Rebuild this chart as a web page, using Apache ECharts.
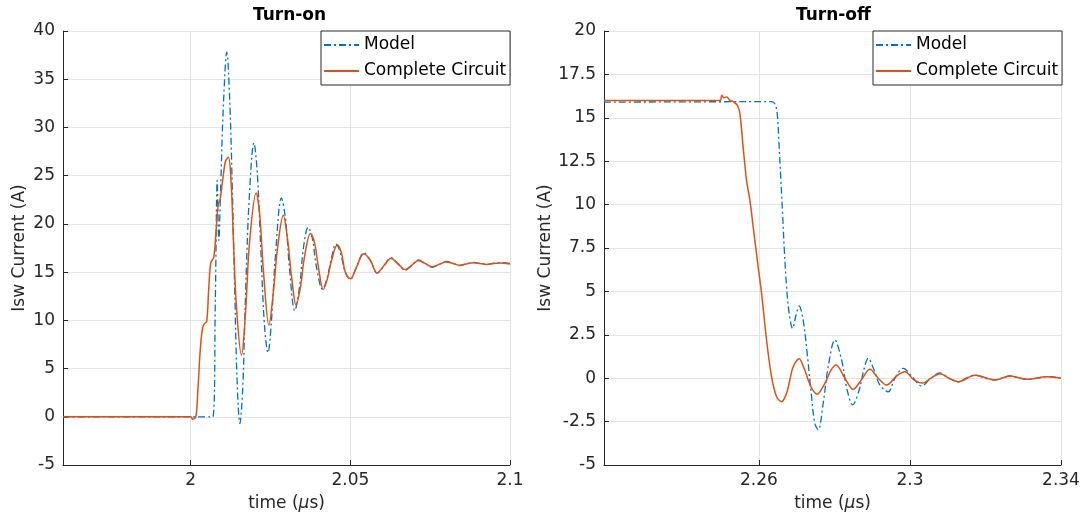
<!DOCTYPE html>
<html>
<head>
<meta charset="utf-8">
<script src="https://cdn.jsdelivr.net/npm/echarts@6/dist/echarts.min.js"></script>
<style>
  html, body { margin: 0; padding: 0; background: #ffffff; }
  #chart { width: 1088px; height: 524px; }
</style>
</head>
<body>
<div id="chart"></div>
<script>
// ---- Turn-on transient (time in µs, current in A) ----
const onModelT = [1.96, 2.0069, 2.0077, 2.0083, 2.0088, 2.0094, 2.0102, 2.0113, 2.0122, 2.0130, 2.0138, 2.0145,
  2.0154, 2.0163, 2.0172, 2.0183, 2.0198, 2.0209, 2.0220, 2.0231, 2.0242, 2.0253, 2.0266, 2.0284, 2.0297, 2.0309,
  2.0326, 2.0341, 2.0353, 2.0368, 2.0381, 2.0394, 2.0413, 2.0428, 2.0441, 2.0455, 2.0469, 2.0484, 2.0500, 2.0519,
  2.0542, 2.0563, 2.0584, 2.0606, 2.0627, 2.0648, 2.0672, 2.0692, 2.0713, 2.0734, 2.0756, 2.0778, 2.0800, 2.0822,
  2.0842, 2.0863, 2.0885, 2.0906, 2.0927, 2.0947, 2.0969, 2.1];
const onModelI = [0, 0, 12, 24.5, 18.3, 24, 32, 37.8, 33, 24, 13, 4,
  -0.7, 3, 13, 22.5, 28.4, 25, 17, 9.5, 6.65, 10, 17, 22.7, 20.5, 15.5,
  11.0, 13.5, 17.5, 19.65, 18.5, 15.5, 13.2, 14.5, 16.5, 17.9, 17, 15, 14.25, 15.5,
  17.0, 16.2, 14.9, 15.7, 16.5, 15.9, 15.2, 15.7, 16.26, 15.9, 15.5, 15.8, 16.1, 15.9,
  15.67, 15.85, 16.0, 15.9, 15.8, 15.9, 15.98, 15.9];

const onCircT = [1.96, 2.0, 2.0006, 2.0016, 2.0022, 2.0030, 2.0037, 2.0042, 2.0050, 2.0056, 2.0063, 2.0072,
  2.0080, 2.0086, 2.0092, 2.0100, 2.0109, 2.0118, 2.0127, 2.0134, 2.0144, 2.0159, 2.0172, 2.0184, 2.0205,
  2.0216, 2.0228, 2.0245, 2.0259, 2.0272, 2.0290, 2.0303, 2.0316, 2.0330, 2.0344, 2.0356, 2.0375, 2.0388,
  2.0400, 2.0415, 2.0428, 2.0441, 2.0459, 2.0472, 2.0484, 2.0500, 2.0519, 2.0542, 2.0563, 2.0584, 2.0606,
  2.0627, 2.0648, 2.0672, 2.0692, 2.0713, 2.0734, 2.0756, 2.0778, 2.0800, 2.0822, 2.0842, 2.0863, 2.0885,
  2.0906, 2.0927, 2.0947, 2.0969, 2.1];
const onCircI = [0, 0, -0.25, 0, 2.5, 7, 9.2, 9.6, 9.9, 13, 16, 16.5,
  19.5, 22, 22.5, 24.5, 26.5, 26.9, 24, 18, 11, 6.4, 11, 18, 23.2,
  21, 15, 9.5, 13, 17.5, 20.9, 18.5, 14.5, 11.6, 13.5, 16.5, 19.0, 18,
  15.5, 13.2, 14.3, 16.2, 17.8, 17, 15, 14.3, 15.5, 16.9, 16.2, 14.9, 15.7,
  16.45, 15.9, 15.25, 15.7, 16.2, 15.9, 15.55, 15.8, 16.05, 15.9, 15.7, 15.85, 15.98,
  15.9, 15.8, 15.9, 15.95, 15.85];

// ---- Turn-off transient ----
const offModelT = [2.219, 2.26336, 2.26424, 2.26485, 2.26538, 2.26583, 2.26628, 2.26670, 2.26734, 2.26803,
  2.26893, 2.26980, 2.27068, 2.27173, 2.27279, 2.27396, 2.27483, 2.27571, 2.27703, 2.27836, 2.28013, 2.28191,
  2.28339, 2.28482, 2.28657, 2.28781, 2.28895, 2.29046, 2.29205, 2.29425, 2.29603, 2.29823, 2.30053, 2.30310,
  2.30530, 2.30795, 2.31033, 2.31280, 2.31483, 2.31722, 2.31987, 2.32252, 2.32437, 2.32649, 2.32887, 2.33134,
  2.33364, 2.33621, 2.34];
const offModelI = [15.9, 15.93, 15.8, 15.26, 13.3, 11.4, 9.5, 7.57, 5.27, 3.74,
  2.87, 3.6, 4.16, 3.35, 1.43, -1.07, -2.6, -2.98, -1.45, 0.66, 2.2, 1.05,
  -0.68, -1.54, -0.68, 0.5, 1.15, 0.5, -0.4, -0.78, 0, 0.57, 0.1, -0.45,
  -0.05, 0.3, 0, -0.22, 0, 0.18, 0, -0.1, 0, 0.13, 0, -0.06,
  0, 0.09, 0];

const offCircT = [2.219, 2.24967, 2.25020, 2.25073, 2.25152, 2.25232, 2.25319, 2.25425, 2.25497, 2.25584,
  2.25674, 2.25762, 2.25849, 2.25981, 2.26072, 2.26204, 2.26336, 2.26469, 2.26601, 2.26734, 2.26821, 2.26909,
  2.27068, 2.27192, 2.27306, 2.27404, 2.27544, 2.27669, 2.27793, 2.27907, 2.28040, 2.28278, 2.28498, 2.28721,
  2.28940, 2.29160, 2.29383, 2.29629, 2.29868, 2.30106, 2.30336, 2.30556, 2.30795, 2.31033, 2.31280, 2.31722,
  2.32252, 2.32649, 2.33134, 2.33621, 2.34];
const offCircI = [16.0, 16.0, 16.3, 16.15, 16.2, 16.0, 15.93, 15.74, 15.26, 13.3,
  11.4, 10.27, 8.73, 6.42, 4.89, 2.2, 0.09, -1.07, -1.35, -0.87, -0.1, 0.66,
  1.12, 0.6, -0.1, -0.6, -0.93, -0.6, -0.1, 0.45, 0.76, 0, -0.64, -0.07,
  0.51, 0, -0.39, 0.09, 0.37, -0.1, -0.28, 0, 0.26, 0, -0.2, 0.17,
  -0.1, 0.12, -0.06, 0.08, 0];

// ---- axis ticks ----
const onTimeTicks = [2, 2.05, 2.1];
const offTimeTicks = [2.26, 2.3, 2.34];
const seriesNames = ['Model', 'Complete Circuit'];

const pairs = (t, v) => t.map((x, i) => [x, v[i]]);

const FONT = 'DejaVu Sans';
const INK = '#262626';
const GRIDC = '#e3e3e3';
const BLUE = '#0072BD';
const ORANGE = '#D95319';

function xAxisFor(gridIndex, min, max, ticks) {
  return {
    type: 'value', gridIndex, min, max,
    name: '{n|time (}{i|μ}{n|s)}',
    nameLocation: 'middle', nameGap: 30,
    nameTextStyle: {
      rich: {
        n: { fontFamily: FONT, fontSize: 17, color: INK },
        i: { fontFamily: FONT, fontSize: 17, color: INK, fontStyle: 'italic' }
      }
    },
    axisLine: { show: true, onZero: false, lineStyle: { color: INK, width: 1 } },
    axisTick: { show: true, inside: true, length: 5, customValues: ticks, lineStyle: { color: INK } },
    axisLabel: { customValues: ticks, fontFamily: FONT, fontSize: 17, color: INK, margin: 7 },
    splitLine: { show: true, lineStyle: { color: GRIDC, width: 1 } }
  };
}

function yAxisFor(gridIndex, min, max, interval, gap) {
  return {
    type: 'value', gridIndex, min, max, interval,
    name: 'Isw Current (A)',
    nameLocation: 'middle', nameGap: gap,
    nameTextStyle: { fontFamily: FONT, fontSize: 17, color: INK },
    axisLine: { show: true, onZero: false, lineStyle: { color: INK, width: 1 } },
    axisTick: { show: true, inside: true, length: 5, lineStyle: { color: INK } },
    axisLabel: { fontFamily: FONT, fontSize: 17, color: INK, margin: 8 },
    splitLine: { show: true, lineStyle: { color: GRIDC, width: 1 } }
  };
}

// Legend shows only the line sample (no marker) inside a framed box
function legendAt(left) {
  return {
    left, top: 31, orient: 'vertical',
    data: seriesNames,
    backgroundColor: '#ffffff',
    borderColor: INK, borderWidth: 1, borderRadius: 0,
    padding: [3, 4, 3, 2],
    itemWidth: 35, itemHeight: 14, itemGap: 4,
    itemStyle: { opacity: 0 },
    textStyle: { fontFamily: FONT, fontSize: 17, color: '#000000', lineHeight: 22 }
  };
}

const modelStyle = { color: BLUE, width: 1.3, type: [7, 3, 2, 3] };
const circStyle = { color: ORANGE, width: 1.5 };

function lineSeries(name, data, idx, style, color) {
  return {
    name, type: 'line', data, xAxisIndex: idx, yAxisIndex: idx,
    showSymbol: false, symbol: 'none', smooth: 0.35,
    color, lineStyle: style, silent: true
  };
}

const chart = echarts.init(document.getElementById('chart'), null, { renderer: 'canvas' });
chart.setOption({
  animation: false,
  backgroundColor: '#ffffff',
  title: [
    { text: 'Turn-on', left: 248, top: 2, textStyle: { fontFamily: FONT, fontSize: 17, fontWeight: 'bold', color: '#000' } },
    { text: 'Turn-off', left: 791, top: 2, textStyle: { fontFamily: FONT, fontSize: 17, fontWeight: 'bold', color: '#000' } }
  ],
  grid: [
    { left: 63, top: 31, width: 447, height: 434 },
    { left: 604, top: 31, width: 457, height: 434 }
  ],
  legend: [legendAt(321), legendAt(873)],
  xAxis: [xAxisFor(0, 1.96, 2.1, onTimeTicks), xAxisFor(1, 2.219, 2.34, offTimeTicks)],
  yAxis: [yAxisFor(0, -5, 40, 5, 35), yAxisFor(1, -5, 20, 2.5, 43)],
  series: [
    lineSeries(seriesNames[0], pairs(onModelT, onModelI), 0, modelStyle, BLUE),
    lineSeries(seriesNames[1], pairs(onCircT, onCircI), 0, circStyle, ORANGE),
    lineSeries(seriesNames[0], pairs(offModelT, offModelI), 1, modelStyle, BLUE),
    lineSeries(seriesNames[1], pairs(offCircT, offCircI), 1, circStyle, ORANGE)
  ]
});
</script>
</body>
</html>
